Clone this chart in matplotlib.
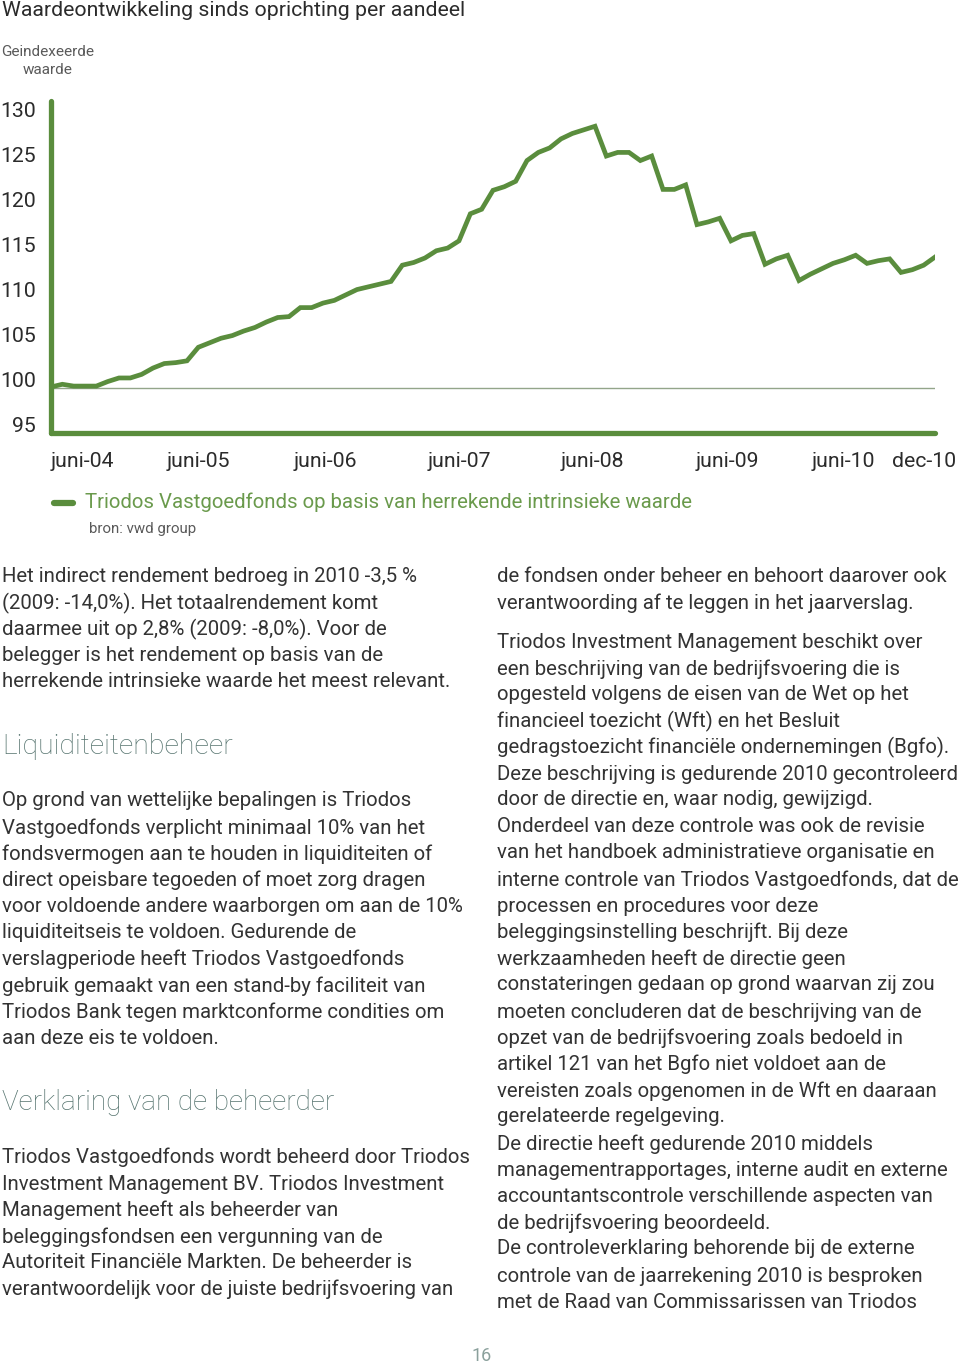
import numpy as np
import matplotlib
matplotlib.use("Agg")
import matplotlib.pyplot as plt
from matplotlib.transforms import ScaledTranslation

plt.rcParams['font.family'] = ['Roboto', 'DejaVu Sans']

# monthly index value, juni-04 .. dec-10
values = [100.1, 100.4, 100.2, 100.2, 100.2, 100.7, 101.1, 101.1, 101.5, 102.2,
          102.7, 102.8, 103.0, 104.5, 105.0, 105.5, 105.8, 106.3, 106.7, 107.3,
          107.8, 107.9, 108.9, 108.9, 109.4, 109.7, 110.3, 110.9, 111.2, 111.5,
          111.8, 113.6, 113.9, 114.4, 115.2, 115.5, 116.3, 119.3, 119.8, 121.9,
          122.3, 122.9, 125.2, 126.1, 126.6, 127.6, 128.2, 128.6, 129.0, 125.7,
          126.1, 126.1, 125.2, 125.7, 122.0, 122.0, 122.5, 118.1, 118.4, 118.8,
          116.3, 116.9, 117.1, 113.7, 114.3, 114.7, 111.9, 112.6, 113.2, 113.8,
          114.2, 114.7, 113.8, 114.1, 114.3, 112.8, 113.1, 113.6, 114.5]
months = np.arange(len(values))

x_labels = ['juni-04', 'juni-05', 'juni-06', 'juni-07', 'juni-08', 'juni-09', 'juni-10', 'dec-10']
x_label_pos = [2.8, 13.0, 24.2, 36.0, 47.8, 59.7, 69.9, 77.0]
y_ticks = [95, 100, 105, 110, 115, 120, 125, 130]

green = '#5a8d3d'
dark = '#333333'
head = '#56746f'

W, H = 960, 1369
fig = plt.figure(figsize=(W / 100, H / 100), dpi=100)


def fx(x):
    return x / W


def fy(y):
    return 1 - y / H


ax = fig.add_axes([fx(51), fy(433), fx(935) - fx(51), (433 - 101) / H])
ax.plot(months, values, color=green, lw=3.4, solid_joinstyle='miter', zorder=3)
ax.axhline(100, color='#93a58a', lw=1.0, zorder=2)
ax.set_xlim(0, 78)
ax.set_ylim(95, 131.8)
for s in ['top', 'right']:
    ax.spines[s].set_visible(False)
for s in ['left', 'bottom']:
    ax.spines[s].set_color(green)
    ax.spines[s].set_linewidth(3.8)
    ax.spines[s].set_capstyle('round')
ax.set_yticks(y_ticks)
ax.set_yticklabels([str(v) for v in y_ticks])
ax.set_xticks(x_label_pos)
ax.set_xticklabels(x_labels)
ax.tick_params(length=0, labelsize=15.3, colors='#2b2b2b')
ax.tick_params(axis='y', pad=11)
ax.tick_params(axis='x', pad=14)
for lbl in ax.get_yticklabels():
    lbl.set_transform(lbl.get_transform() + ScaledTranslation(0, 0.08, fig.dpi_scale_trans))

# titles and legend
fig.text(fx(2), fy(10), 'Waardeontwikkeling sinds oprichting per aandeel',
         fontsize=15.3, color='#2b2b2b', va='center', ha='left')
fig.text(fx(48), fy(61), 'Geindexeerde\nwaarde', fontsize=11, color='#5a5a5a',
         va='center', ha='center', linespacing=1.45)
fig.lines.append(plt.Line2D([fx(54), fx(73)], [fy(503), fy(503)], transform=fig.transFigure,
                            color=green, lw=4.5, solid_capstyle='round'))
fig.text(fx(85), fy(502), 'Triodos Vastgoedfonds op basis van herrekende intrinsieke waarde',
         fontsize=14.7, color='#6a9a4c', va='center', ha='left')
fig.text(fx(89), fy(529), 'bron: vwd group', fontsize=10.8, color='#5a5a5a', va='center', ha='left')

left_col = [
    (576, 'Het indirect rendement bedroeg in 2010 -3,5 %'),
    (603, '(2009: -14,0%). Het totaalrendement komt'),
    (629, 'daarmee uit op 2,8% (2009: -8,0%). Voor de'),
    (656, 'belegger is het rendement op basis van de'),
    (682, 'herrekende intrinsieke waarde het meest relevant.'),
    (801, 'Op grond van wettelijke bepalingen is Triodos'),
    (828, 'Vastgoedfonds verplicht minimaal 10% van het'),
    (854, 'fondsvermogen aan te houden in liquiditeiten of'),
    (880, 'direct opeisbare tegoeden of moet zorg dragen'),
    (907, 'voor voldoende andere waarborgen om aan de 10%'),
    (933, 'liquiditeitseis te voldoen. Gedurende de'),
    (959, 'verslagperiode heeft Triodos Vastgoedfonds'),
    (986, 'gebruik gemaakt van een stand-by faciliteit van'),
    (1012, 'Triodos Bank tegen marktconforme condities om'),
    (1038, 'aan deze eis te voldoen.'),
    (1157, 'Triodos Vastgoedfonds wordt beheerd door Triodos'),
    (1184, 'Investment Management BV. Triodos Investment'),
    (1210, 'Management heeft als beheerder van'),
    (1237, 'beleggingsfondsen een vergunning van de'),
    (1263, 'Autoriteit Financiële Markten. De beheerder is'),
    (1289, 'verantwoordelijk voor de juiste bedrijfsvoering van'),
]
right_col = [
    (576, 'de fondsen onder beheer en behoort daarover ook'),
    (603, 'verantwoording af te leggen in het jaarverslag.'),
    (642, 'Triodos Investment Management beschikt over'),
    (669, 'een beschrijving van de bedrijfsvoering die is'),
    (695, 'opgesteld volgens de eisen van de Wet op het'),
    (721, 'financieel toezicht (Wft) en het Besluit'),
    (747, 'gedragstoezicht financiële ondernemingen (Bgfo).'),
    (774, 'Deze beschrijving is gedurende 2010 gecontroleerd'),
    (800, 'door de directie en, waar nodig, gewijzigd.'),
    (827, 'Onderdeel van deze controle was ook de revisie'),
    (853, 'van het handboek administratieve organisatie en'),
    (880, 'interne controle van Triodos Vastgoedfonds, dat de'),
    (906, 'processen en procedures voor deze'),
    (932, 'beleggingsinstelling beschrijft. Bij deze'),
    (959, 'werkzaamheden heeft de directie geen'),
    (985, 'constateringen gedaan op grond waarvan zij zou'),
    (1012, 'moeten concluderen dat de beschrijving van de'),
    (1038, 'opzet van de bedrijfsvoering zoals bedoeld in'),
    (1064, 'artikel 121 van het Bgfo niet voldoet aan de'),
    (1091, 'vereisten zoals opgenomen in de Wft en daaraan'),
    (1117, 'gerelateerde regelgeving.'),
    (1144, 'De directie heeft gedurende 2010 middels'),
    (1170, 'managementrapportages, interne audit en externe'),
    (1197, 'accountantscontrole verschillende aspecten van'),
    (1223, 'de bedrijfsvoering beoordeeld.'),
    (1249, 'De controleverklaring behorende bij de externe'),
    (1276, 'controle van de jaarrekening 2010 is besproken'),
    (1302, 'met de Raad van Commissarissen van Triodos'),
]
for y, t in left_col:
    fig.text(fx(2), fy(y), t, fontsize=14.7, color=dark, va='center', ha='left')
for y, t in right_col:
    fig.text(fx(497), fy(y), t, fontsize=14.7, color=dark, va='center', ha='left')

fig.text(fx(2), fy(746), 'Liquiditeitenbeheer', fontsize=20.5, color=head, va='center',
         ha='left', fontweight='light')
fig.text(fx(2), fy(1102), 'Verklaring van de beheerder', fontsize=20.1, color=head, va='center',
         ha='left', fontweight='light')
fig.text(fx(482), fy(1356), '16', fontsize=13, color='#8aa09c', va='center', ha='center')

fig.savefig('out.png', dpi=100)
